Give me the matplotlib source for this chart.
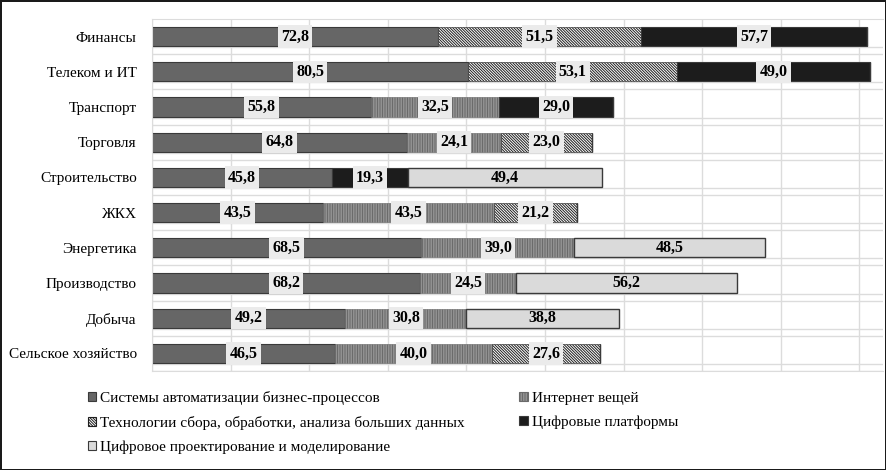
import matplotlib as mpl
import matplotlib.pyplot as plt
import numpy as np
from matplotlib.patches import Patch

categories = ["Финансы", "Телеком и ИТ", "Транспорт", "Торговля", "Строительство",
              "ЖКХ", "Энергетика", "Производство", "Добыча", "Сельское хозяйство"]

series_names = ["Системы автоматизации бизнес-процессов",
                "Интернет вещей",
                "Технологии сбора, обработки, анализа больших данных",
                "Цифровые платформы",
                "Цифровое проектирование и моделирование"]

automation = [72.8, 80.5, 55.8, 64.8, 45.8, 43.5, 68.5, 68.2, 49.2, 46.5]
iot = [0, 0, 32.5, 24.1, 0, 43.5, 39.0, 24.5, 30.8, 40.0]
big_data = [51.5, 53.1, 0, 23.0, 0, 21.2, 0, 0, 0, 27.6]
platforms = [57.7, 49.0, 29.0, 0, 19.3, 0, 0, 0, 0, 0]
design = [0, 0, 0, 0, 49.4, 0, 48.5, 56.2, 38.8, 0]

STYLES = [
    dict(facecolor="#666666", edgecolor="#3a3a3a", hatch=None, lw=0.8),
    dict(facecolor="#a4a4a4", edgecolor="#6a6a6a", hatch="|" * 10, lw=0.4),
    dict(facecolor="white", edgecolor="#1e1e1e", hatch="\\" * 12, lw=0.4),
    dict(facecolor="#1c1c1c", edgecolor="#3a3a3a", hatch=None, lw=0.8),
    dict(facecolor="#dadada", edgecolor="#3a3a3a", hatch=None, lw=1.0),
]

SERIF = "Liberation Serif"
GRID = "#dcdcdc"

mpl.rcParams.update({"font.family": SERIF, "hatch.linewidth": 0.7})

fig = plt.figure(figsize=(8.86, 4.70), dpi=100)
fig.patch.set_edgecolor("#1a1a1a")
fig.patch.set_linewidth(2.0)
ax = fig.add_axes([152 / 886, 1 - 371 / 470, 731 / 886, 352 / 470])

y = np.arange(len(categories))
left = np.zeros(len(categories))
bar_h = 0.55
for k, (name, vals, st) in enumerate(zip(series_names,
                                         [automation, iot, big_data, platforms, design],
                                         STYLES)):
    vals = np.asarray(vals, dtype=float)
    ax.barh(y, vals, left=left, height=bar_h, color=st["facecolor"],
            edgecolor=st["edgecolor"], hatch=st["hatch"], linewidth=st["lw"], zorder=2)
    for i, v in enumerate(vals):
        if v <= 0:
            continue
        label = f"{v:.1f}".replace(".", ",")
        if k == 4:
            ax.text(left[i] + v / 2, i, label, ha="center", va="center",
                    fontsize=11.5, fontweight="bold", zorder=4)
        else:
            ax.text(left[i] + v / 2, i, label, ha="center", va="center",
                    fontsize=11.5, fontweight="bold", zorder=4,
                    bbox=dict(boxstyle="square,pad=0.2", fc="#ebebeb", ec="none"))
    left += vals

ax.set_xlim(0, 186)
ax.set_ylim(len(categories) - 0.5, -0.5)
ax.set_xticks(np.arange(0, 181, 20))
ax.set_xticklabels([])
ax.set_yticks(y)
ax.set_yticklabels(categories, fontsize=11)
ax.tick_params(axis="both", length=0)
ax.tick_params(axis="y", pad=11)
ax.grid(axis="x", color=GRID, lw=1.0, zorder=0)
ax.hlines(np.concatenate([y + 0.3, y + 0.5]), 0, 186, color=GRID, lw=1.0, zorder=0)
ax.set_axisbelow(True)
for sp in ax.spines.values():
    sp.set_color(GRID)
ax.spines["right"].set_visible(False)

handles = [Patch(facecolor=st["facecolor"], edgecolor=st["edgecolor"], hatch=st["hatch"],
                 linewidth=0.8) for st in STYLES]
order = [0, 2, 4, 1, 3]
fig.legend([handles[i] for i in order], [series_names[i] for i in order],
           loc="upper left", bbox_to_anchor=(80 / 886, 1 - 383 / 470), ncol=2,
           frameon=False, fontsize=11, handlelength=0.55, handleheight=0.55,
           handletextpad=0.25, columnspacing=3.6, labelspacing=0.72, borderpad=0)

fig.savefig("out.png", dpi=100)
